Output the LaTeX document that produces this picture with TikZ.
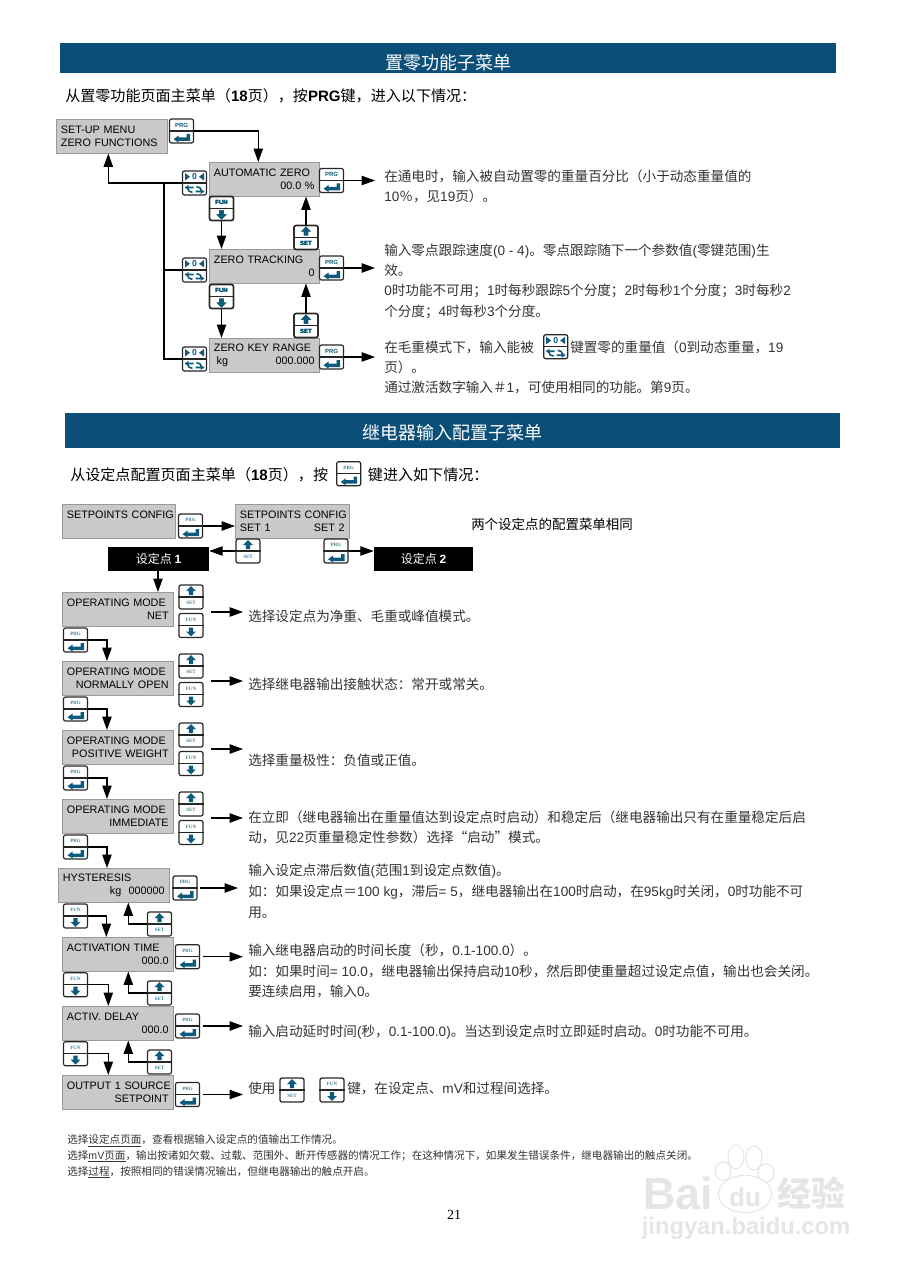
\documentclass[tikz,border=0pt]{standalone}
\usepackage{fontspec}
\setmainfont{Noto Sans CJK SC}
\setsansfont{Liberation Sans}
\newfontfamily\timesfont{Liberation Serif}
\usetikzlibrary{arrows.meta}
\definecolor{barblue}{HTML}{0B4F78}
\definecolor{keyteal}{HTML}{0E5A7A}
\definecolor{lcdgray}{HTML}{C9C9C9}
\tikzset{
	titlebar/.style={fill=barblue,text=white,inner sep=0pt,font=\fontsize{13.5}{16}\selectfont,text depth=0pt},
	lcdbox/.style={draw=black!40,fill=lcdgray,anchor=north west,minimum height=25.5pt,text width=#1,inner xsep=3.5pt,inner ysep=0pt,align=left,font=\sffamily\fontsize{8.1}{10}\selectfont},
	blackbox/.style={fill=black,text=white,inner sep=0pt,minimum height=18pt,font=\fontsize{9}{11}\selectfont},
	keybox/.style={draw=black!85,line width=.9pt,rounded corners=1.5pt,minimum size=18pt,inner sep=0pt},
	keyline/.style={draw=black!85,line width=.9pt},
	keylabel/.style={inner sep=0pt,text=keyteal,font=\sffamily\bfseries\fontsize{4.5}{5}\selectfont},
	plainline/.style={line width=.85pt},
	conn/.style={line width=.85pt,-{Triangle[length=10pt,width=7pt]}},
	noteline/.style={anchor=base west,inner sep=0pt,text=black!80,font=\fontsize{10.2}{12}\selectfont},
	promptline/.style={anchor=base west,inner sep=0pt,font=\fontsize{11.3}{13}\selectfont},
	smallline/.style={anchor=base west,inner sep=0pt,text=black!80,font=\fontsize{7.95}{9}\selectfont},
	wmark/.style={inner sep=0pt,text=black!10},
	toe/.style={draw=black!10,fill=white,line width=.8pt}
}
\newcommand\kbody[2]{\node[keybox] (#1) at (#2) {}; \draw[keyline] (#1.west)--(#1.east);}
\newcommand\kprg[2]{\kbody{#1}{#2}
	\begin{scope}[shift={(#1.center)}]
		\node[keylabel] (#1l) at (0,-6) {PRG};
		\fill[keyteal] (-8,8.3)--(-3,4.5)--(-3,6.5)--(5,6.5)--(5,3)--(8.5,3)--(8.5,10)--(-3,10)--(-3,11.5)--cycle;
	\end{scope}}
\newcommand\kfun[2]{\kbody{#1}{#2}
	\begin{scope}[shift={(#1.center)}]
		\node[keylabel] (#1l) at (0,-6) {FUN};
		\fill[keyteal] (-2.2,2)--(2.2,2)--(2.2,6)--(5,6)--(0,10.8)--(-5,6)--(-2.2,6)--cycle;
	\end{scope}}
\newcommand\kset[2]{\kbody{#1}{#2}
	\begin{scope}[shift={(#1.center)}]
		\node[keylabel] (#1l) at (0,6) {SET};
		\fill[keyteal] (-2.2,-2)--(2.2,-2)--(2.2,-6)--(5,-6)--(0,-10.8)--(-5,-6)--(-2.2,-6)--cycle;
	\end{scope}}
\newcommand\kzero[2]{\kbody{#1}{#2}
	\begin{scope}[shift={(#1.center)}]
		\node[keylabel,font=\sffamily\bfseries\fontsize{6.5}{6.5}\selectfont] (#1l) at (0,-6) {0};
		\fill[keyteal] (-9.5,-10)--(-4.5,-6.2)--(-9.5,-2.5)--cycle (9.5,-10)--(4.5,-6.2)--(9.5,-2.5)--cycle;
		\fill[keyteal] (-10,4.5)--(-6,2)--(-6,7)--cycle (10,8.5)--(6,6)--(6,11)--cycle;
		\draw[keyteal,line width=1.2pt] (-1,4.5)--(-6,4.5) (-7,5) to[bend right=50] (-2,9.3) (1,8.5)--(6,8.5) (7,8) to[bend right=50] (2,3.7);
	\end{scope}}
\begin{document}
\begin{tikzpicture}[x=.75pt,y=-.75pt]
	\useasboundingbox (0,0) rectangle (905,1280);
	\node[titlebar,minimum width=582pt,minimum height=22.5pt,text height=17.25pt] (bar1) at (448,58) {置零功能子菜单};
	\node[promptline] (p1) at (65,102) {从置零功能页面主菜单（\textsf{\bfseries 18}页），按\textsf{\bfseries PRG}键，进入以下情况：};
	\foreach \n/\x/\y/\w/\s in {menu/56/119/76.25pt/{SET-UP MENU\\ZERO FUNCTIONS},
		az/209/162/75.5pt/{AUTOMATIC ZERO\\\hspace*{\fill}00.0 \%\hspace*{1.5pt}},
		zt/209/249/75.5pt/{ZERO TRACKING\\\hspace*{\fill}0},
		zk/209/338/75.5pt/{ZERO KEY RANGE\\\hspace*{2pt}kg\hfill 000.000}}
	\node[lcdbox=\w] (\n) at (\x,\y) {\s};
	\kprg{k0}{181.5,131}
	\foreach \n/\x/\y in {1/331.5/180.5,2/331.5/268,3/331.5/357} {
		\kprg{kp\n}{\x,\y}
		\path (375,\y) coordinate (tp\n);
		\draw[conn] (kp\n.east)--(tp\n);
	}
	\foreach \n/\y in {1/183,2/270,3/359} \kzero{kz\n}{194.5,\y}
	\kfun{kf1}{221.5,208.5}
	\kfun{kf2}{221.5,296.5}
	\kset{ks1}{306,237.5}
	\kset{ks2}{306,325.5}
	\path (164,183) coordinate (tr);
	\draw[conn] (k0.east) -| ([xshift=-4.5pt]az.north);
	\draw[conn] (kz1.west) -| ([xshift=-2.6pt]menu.south);
	\draw[plainline] (kz3.west) -| (tr) (kz2.west)--(kz2.west -| tr);
	\draw[conn] (kf1.south)--(kf1.south |- zt.north);
	\draw[conn] (kf2.south)--(kf2.south |- zk.north);
	\draw[conn] (ks1.north)--(ks1.north |- az.south);
	\draw[conn] (ks2.north)--(ks2.north |- zt.south);
	\foreach \n/\y/\s in {1/182/{在通电时，输入被自动置零的重量百分比（小于动态重量值的},
		2/202/{\textsf{10}％，见\textsf{19}页）。},
		3/255/{输入零点跟踪速度\textsf{(0 - 4)}。零点跟踪随下一个参数值\textsf{(}零键范围\textsf{)}生},
		4/275/{效。},
		5/295.5/{\textsf{0}时功能不可用；\textsf{1}时每秒跟踪\textsf{5}个分度；\textsf{2}时每秒\textsf{1}个分度；\textsf{3}时每秒\textsf{2}},
		6/316/{个分度；\textsf{4}时每秒\textsf{3}个分度。},
		7/352/{在毛重模式下，输入能被},
		8/372.5/{页）。},
		9/392.5/{通过激活数字输入＃\textsf{1}，可使用相同的功能。第\textsf{9}页。}}
	\node[noteline] (ta\n) at (384,\y) {\s};
	\kzero{kzi}{555.7,346.7}
	\node[noteline] (ta10) at (570,352) {键置零的重量值（\textsf{0}到动态重量，\textsf{19}};
	\node[titlebar,minimum width=581.6pt,minimum height=25.9pt,text height=13.5pt] (bar2) at (452.25,430.5) {继电器输入配置子菜单};
	\node[promptline] (p2) at (70,480) {从设定点配置页面主菜单（\textsf{\bfseries 18}页），按};
	\node[promptline] (p3) at (367.7,480) {键进入如下情况：};
	\node[promptline,font=\fontsize{10.1}{12}\selectfont] (p4) at (471,529) {两个设定点的配置菜单相同};
	\begin{scope}[keylabel/.style={inner sep=0pt,text=keyteal!80,font=\timesfont\bfseries\fontsize{3.7}{4}\selectfont}]
		\kprg{kpi}{348.7,473.7}
		\foreach \n/\x/\y/\w/\s in {spc/62/504/77.75pt/{\mbox{SETPOINTS CONFIG}\\\mbox{}},
			sps/235/504/78.5pt/{\mbox{SETPOINTS CONFIG}\\SET 1\hfill SET 2},
			om1/62/592/76.25pt/{OPERATING MODE\\\hspace*{\fill}NET},
			om2/62/661/76.25pt/{OPERATING MODE\\\hspace*{\fill}NORMALLY OPEN},
			om3/62/730/76.25pt/{OPERATING MODE\\\hspace*{\fill}POSITIVE WEIGHT},
			om4/62/799/76.25pt/{OPERATING MODE\\\hspace*{\fill}IMMEDIATE},
			hy/58/868/76.25pt/{HYSTERESIS\\\hspace*{\fill}kg\ \ 000000},
			act/62/937/76.25pt/{ACTIVATION TIME\\\hspace*{\fill}000.0},
			adl/62/1006/76.25pt/{ACTIV. DELAY\\\hspace*{\fill}000.0},
			osr/62/1075/76.25pt/{\mbox{OUTPUT 1 SOURCE}\\\hspace*{\fill}SETPOINT}}
		\node[lcdbox=\w] (\n) at (\x,\y) {\s};
		\node[blackbox,minimum width=75.75pt] (bb1) at (158.5,559) {设定点 \textsf{\bfseries 1}};
		\node[blackbox,minimum width=74.25pt] (bb2) at (423.5,559) {设定点 \textsf{\bfseries 2}};
		\kprg{kc1}{190.5,526}
		\kset{kc2}{248,551}
		\kprg{kc3}{336,551}
		\draw[conn] (kc1.east)--(kc1.east -| sps.west);
		\draw[conn] (kc2.west)--(kc2.west -| bb1.east);
		\draw[conn] (kc3.east)--(kc3.east -| bb2.west);
		\draw[conn] ([xshift=-.4pt]bb1.south)--([xshift=-.4pt]bb1.south |- om1.north);
		\foreach \n/\a/\b/\c in {1/597/625.5/612,2/666/694.5/681,3/735/763.5/749,4/804/832.5/818} {
			\kset{ku\n}{191,\a}
			\kfun{kd\n}{191,\b}
			\path (211,\c) coordinate (ma\n) (243,\c) coordinate (mb\n);
			\draw[conn] (ma\n)--(mb\n);
		}
		\foreach \n/\m/\y/\d in {1/om2/640/-8.1,2/om3/709/-8.1,3/om4/778/-8.1,4/hy/847/-5.1} {
			\kprg{kb\n}{75.5,\y}
			\draw[conn] (kb\n.east) -| ([xshift=\d pt]\m.north);
		}
		\foreach \n/\m/\o/\f/\g/\d/\e in {1/act/hy/916/924/-8.6/10.9,2/adl/act/984.7/993/-7.1/7.9,3/osr/adl/1053.7/1062/-7.1/7.9} {
			\kfun{kg\n}{75.5,\f}
			\kset{kh\n}{159.5,\g}
			\draw[conn] (kg\n.east) -| ([xshift=\d pt]\m.north);
			\draw[conn] (kh\n.west) -| ([xshift=\e pt]\o.south);
		}
		\foreach \n/\x/\y/\z in {1/185/888/238,2/187.5/956.7/243,3/187.5/1026/243,4/187.5/1094.5/243} {
			\kprg{kr\n}{\x,\y}
			\path (\z,\y) coordinate (tr\n);
			\draw[conn,shorten <=2pt] (kr\n.east)--(tr\n);
		}
		\kset{ksi}{292,1090}
		\kfun{kfi}{332,1090}
	\end{scope}
	\foreach \n/\y/\s in {1/621.5/{选择设定点为净重、毛重或峰值模式。},
		2/689.5/{选择继电器输出接触状态：常开或常关。},
		3/765.5/{选择重量极性：负值或正值。},
		4/822.5/{在立即（继电器输出在重量值达到设定点时启动）和稳定后（继电器输出只有在重量稳定后启},
		5/842.5/{动，见\textsf{22}页重量稳定性参数）选择“启动”模式。},
		6/875.5/{输入设定点滞后数值\textsf{(}范围\textsf{1}到设定点数值\textsf{)}。},
		7/896.5/{如：如果设定点＝\textsf{100 kg}，滞后\textsf{= 5}，继电器输出在\textsf{100}时启动，在\textsf{95kg}时关闭，\textsf{0}时功能不可},
		8/917.5/{用。},
		9/955/{输入继电器启动的时间长度（秒，\textsf{0.1-100.0}）。},
		10/976/{如：如果时间\textsf{= 10.0}，继电器输出保持启动\textsf{10}秒，然后即使重量超过设定点值，输出也会关闭。},
		11/996/{要连续启用，输入\textsf{0}。},
		12/1036.5/{输入启动延时时间\textsf{(}秒，\textsf{0.1-100.0)}。当达到设定点时立即延时启动。\textsf{0}时功能不可用。},
		13/1093.5/{使用}}
	\node[noteline] (tb\n) at (248,\y) {\s};
	\node[noteline] (tb14) at (347,1093.5) {键，在设定点、\textsf{mV}和过程间选择。};
	\foreach \n/\y/\s in {1/1143.5/{选择\underline{设定点页面}，查看根据输入设定点的值输出工作情况。},
		2/1159/{选择\underline{\textsf{mV}页面}，输出按诸如欠载、过载、范围外、断开传感器的情况工作；在这种情况下，如果发生错误条件，继电器输出的触点关闭。},
		3/1175/{选择\underline{过程}，按照相同的错误情况输出，但继电器输出的触点开启。}}
	\node[smallline] (tc\n) at (67,\y) {\s};
	\node[inner sep=0pt,font=\timesfont\fontsize{10.5}{12}\selectfont] (pg) at (454,1215) {21};
	\foreach \n/\x/\y/\a/\b in {1/723/1171/6/7,2/736/1157/6/9,3/754/1158/6/9,4/766/1173/6/7}
	\draw[toe] (\x,\y) ellipse (\a pt and \b pt);
	\draw[toe] (745,1194) ellipse (20pt and 14pt);
	\node[wmark,font=\sffamily\bfseries\fontsize{33.7}{36}\selectfont] (wm1) at (678,1193) {Bai};
	\node[wmark,font=\sffamily\bfseries\fontsize{19.5}{22}\selectfont] (wm2) at (745,1197) {du};
	\node[wmark,font=\bfseries\fontsize{25.5}{28}\selectfont] (wm3) at (811,1193) {经验};
	\node[wmark,font=\sffamily\bfseries\fontsize{17.8}{20}\selectfont] (wm4) at (746,1228) {jingyan.baidu.com};
\end{tikzpicture}
\end{document}
